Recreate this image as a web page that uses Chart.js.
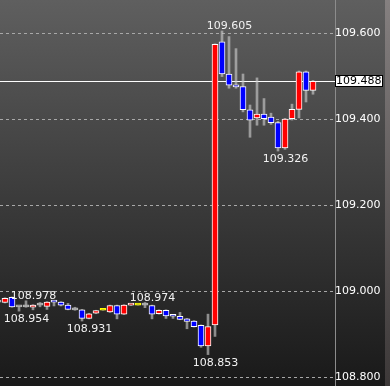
<!DOCTYPE html>
<html><head><meta charset="utf-8">
<script src="https://cdn.jsdelivr.net/npm/chart.js@4/dist/chart.umd.min.js"></script>
<style>html,body{margin:0;padding:0;background:#1a1a1a;overflow:hidden}#wrap{width:390px;height:386px}</style>
</head><body><div id="wrap"><canvas id="c" width="390" height="386"></canvas></div>
<script>
// bar positions (index of each candle; the first one is only partly in view)
const bars = [0,1,2,3,4,5,6,7,8,9,10,11,12,13,14,15,16,17,18,19,20,21,22,23,24,25,26,27,28,29,30,31,32,33,34,35,36,37,38,39,40,41,42,43,44,45];
const openPrices = [108.975,108.974,108.986,108.964,108.964,108.963,108.968,108.965,108.976,108.975,108.968,108.957,108.957,108.937,108.949,108.956,108.952,108.967,108.947,108.968,108.968,108.968,108.967,108.948,108.956,108.943,108.942,108.936,108.931,108.921,108.873,108.922,109.580,109.505,109.479,109.476,109.422,109.403,109.412,109.405,109.392,109.333,109.401,109.423,109.510,109.467];
const highPrices = [108.976,108.985,108.987,108.965,108.978,108.969,108.974,108.976,108.976,108.976,108.972,108.963,108.958,108.949,108.956,108.956,108.968,108.968,108.969,108.969,108.968,108.974,108.968,108.957,108.957,108.943,108.951,108.937,108.932,108.922,108.947,109.575,109.605,109.592,109.564,109.505,109.433,109.496,109.448,109.414,109.395,109.402,109.435,109.512,109.512,109.490];
const lowPrices = [108.974,108.973,108.963,108.954,108.963,108.957,108.964,108.958,108.966,108.966,108.957,108.956,108.931,108.936,108.948,108.956,108.951,108.936,108.946,108.967,108.968,108.962,108.936,108.947,108.937,108.937,108.934,108.913,108.917,108.870,108.853,108.895,109.499,109.472,109.472,109.417,109.358,109.386,109.386,109.388,109.326,109.330,109.398,109.403,109.440,109.458];
const closePrices = [108.975,108.984,108.964,108.964,108.964,108.968,108.968,108.975,108.975,108.968,108.958,108.957,108.937,108.948,108.955,108.956,108.967,108.947,108.968,108.969,108.968,108.968,108.947,108.956,108.943,108.942,108.935,108.930,108.918,108.873,108.918,109.574,109.505,109.479,109.475,109.422,109.398,109.412,109.401,109.392,109.333,109.400,109.423,109.510,109.467,109.488];
const yTickValues = [108.8, 109.0, 109.2, 109.4, 109.6];
const markerBars = [4, 3, 12, 21, 30, 32, 40];
const markerSides = ['high', 'low', 'low', 'high', 'low', 'high', 'low'];

const UP = '#ff0000', DOWN = '#0000ff', FLAT = '#b4b4b4', FLATNOWICK = '#ffff00';
function bodyColor(i) {
  const o = openPrices[i], c = closePrices[i];
  if (c > o) return UP;
  if (c < o) return DOWN;
  return highPrices[i] === lowPrices[i] ? FLATNOWICK : FLAT;
}
function bodyBorder(i) {
  const o = openPrices[i], c = closePrices[i];
  return c === o ? bodyColor(i) : '#ffffff';
}

const FONT = '11px "DejaVu Sans"';
const PLOT_RIGHT_W = 55;

const decor = {
  id: 'decor',
  beforeDraw(chart) {
    const ctx = chart.ctx, W = chart.width, H = chart.height;
    ctx.save();
    const g = ctx.createLinearGradient(0, 0, 0, H);
    g.addColorStop(0, '#5f5f5f');
    g.addColorStop(1, '#191919');
    ctx.fillStyle = g;
    ctx.fillRect(0, 0, W - 5, H);
    const g2 = ctx.createLinearGradient(0, 0, 0, H);
    g2.addColorStop(0, '#858080');
    g2.addColorStop(1, '#3c3838');
    ctx.fillStyle = g2;
    ctx.fillRect(W - 5, 0, 5, H);
    ctx.restore();
  },
  beforeDatasetsDraw(chart) {
    const ctx = chart.ctx, a = chart.chartArea, y = chart.scales.y;
    ctx.save();
    ctx.strokeStyle = '#8c8c8c';
    ctx.lineWidth = 1;
    ctx.beginPath(); ctx.moveTo(a.right + 0.5, 0); ctx.lineTo(a.right + 0.5, chart.height); ctx.stroke();
    const last = closePrices[closePrices.length - 1];
    const py = Math.round(y.getPixelForValue(last)) + 0.5;
    ctx.strokeStyle = '#ffffff';
    ctx.beginPath(); ctx.moveTo(a.left, py); ctx.lineTo(a.right, py); ctx.stroke();
    ctx.restore();
  },
  afterDatasetsDraw(chart) {
    const ctx = chart.ctx, xs = chart.scales.x, ys = chart.scales.y;
    ctx.save();
    ctx.font = FONT;
    ctx.fillStyle = '#f2f2f2';
    ctx.textAlign = 'center';
    ctx.textBaseline = 'alphabetic';
    markerBars.forEach((b, k) => {
      const i = bars.indexOf(b);
      const x = xs.getPixelForValue(b) + 7.5;
      if (markerSides[k] === 'high') {
        const v = highPrices[i];
        ctx.fillText(v.toFixed(3), x, ys.getPixelForValue(v) - 2);
      } else {
        const v = lowPrices[i];
        ctx.fillText(v.toFixed(3), x, ys.getPixelForValue(v) + 11);
      }
    });
    ctx.restore();
  },
  afterDraw(chart) {
    const ctx = chart.ctx, a = chart.chartArea, ys = chart.scales.y;
    const last = closePrices[closePrices.length - 1];
    const py = Math.round(ys.getPixelForValue(last));
    ctx.save();
    ctx.fillStyle = '#ffffff';
    ctx.fillRect(a.right, py - 5, 48, 11);
    ctx.strokeStyle = '#000000';
    ctx.lineWidth = 1;
    ctx.strokeRect(a.right + 0.5, py - 5.5, 47, 11);
    ctx.fillStyle = '#000000';
    ctx.font = FONT;
    ctx.textAlign = 'left';
    ctx.textBaseline = 'middle';
    ctx.fillText(last.toFixed(3), a.right + 1, py + 0.5);
    ctx.restore();
  }
};

new Chart(document.getElementById('c'), {
  type: 'bar',
  data: {
    datasets: [
      {
        label: 'body',
        data: bars.map((b, i) => ({ x: b, y: [openPrices[i], closePrices[i]] })),
        backgroundColor: bars.map((b, i) => bodyColor(i)),
        borderColor: bars.map((b, i) => bodyBorder(i)),
        borderWidth: 1,
        borderSkipped: false,
        barThickness: 6,
        minBarLength: 2,
        grouped: false,
        order: 0
      },
      {
        label: 'wick',
        data: bars.map((b, i) => ({ x: b, y: [lowPrices[i], highPrices[i]] })),
        backgroundColor: 'rgba(205,205,205,0.62)',
        borderWidth: 0,
        barThickness: 2,
        grouped: false,
        order: 1
      }
    ]
  },
  options: {
    responsive: false,
    animation: false,
    devicePixelRatio: 1,
    layout: { padding: 0 },
    plugins: { legend: { display: false }, tooltip: { enabled: false } },
    scales: {
      x: {
        type: 'linear',
        display: false,
        min: 2 / 7,
        max: 337 / 7,
        offset: false
      },
      y: {
        position: 'right',
        min: 108.78,
        max: 109.677,
        afterFit(s) { s.width = PLOT_RIGHT_W; s.paddingTop = 0; s.paddingBottom = 0; },
        afterBuildTicks(s) { s.ticks = yTickValues.map(v => ({ value: v })); },
        border: { display: false, dash: [3, 3] },
        grid: { color: '#a8a8a8', lineWidth: 1, drawTicks: false },
        ticks: {
          color: '#ffffff',
          font: { family: 'DejaVu Sans', size: 11 },
          padding: 0,
          crossAlign: 'near',
          callback: v => Number(v).toFixed(3)
        }
      }
    }
  },
  plugins: [decor]
});
</script>
</body></html>
